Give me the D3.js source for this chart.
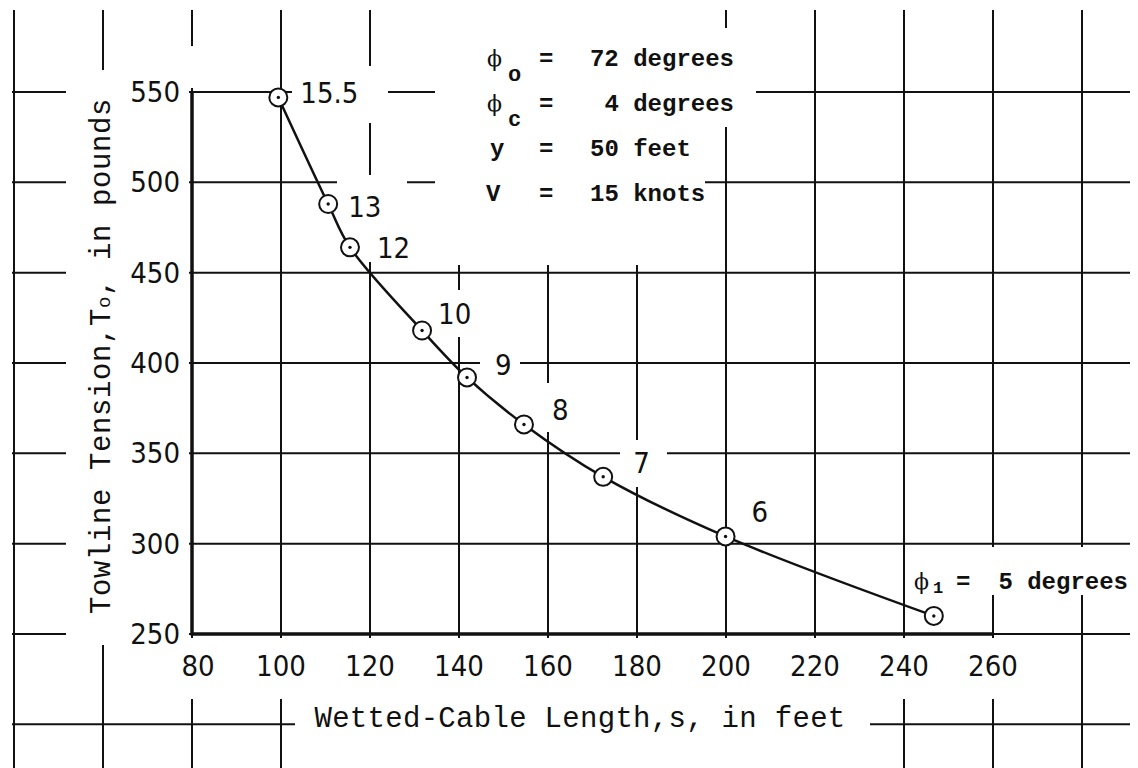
<!DOCTYPE html>
<html><head><meta charset="utf-8">
<script src="https://cdn.jsdelivr.net/npm/d3@7"></script>
<style>body{margin:0;background:#fff} svg{display:block}</style>
</head><body>
<svg id="c" width="1138" height="768"></svg>
<script>
// ---- data ----
const cableLength    = [99.4, 110.6, 115.5, 131.7, 141.8, 154.6, 172.4, 199.9, 246.7];
const towlineTension = [547, 488, 464, 418, 392, 366, 337, 304, 260];
const phiLabels      = ["15.5", "13", "12", "10", "9", "8", "7", "6"];
const xTicks = [80, 100, 120, 140, 160, 180, 200, 220, 240, 260];
const yTicks = [250, 300, 350, 400, 450, 500, 550];
const xGrid  = [40, 60, 80, 100, 120, 140, 160, 180, 200, 220, 240, 260, 280];
const yGrid  = [200, 250, 300, 350, 400, 450, 500, 550];
const legendSymbols = ["\u03D5", "\u03D5", "y", "V"];
const legendSubs    = ["o", "c", "", ""];
const legendValues  = ["72 degrees", "4 degrees", "50 feet", "15 knots"];
const xTitle = "Wetted-Cable Length,s, in feet";
const yTitleA = "Towline Tension,T", yTitleSub = "o", yTitleB = ", in pounds";
const lastLabel = {sym: "\u03D5", sub: "1", rest: "5 degrees"};

// ---- layout ----
const svg = d3.select("#c");
const x = d3.scaleLinear().domain([80, 280]).range([192, 1082]);
const y = d3.scaleLinear().domain([250, 550]).range([634, 92]);
const ink = "#111";
const gridL = 12, gridR = 1130, gridT = 10, gridB = 768;

const g = svg.append("g");
// grid
g.selectAll("line.v").data(xGrid).join("line")
  .attr("x1", d => x(d)).attr("x2", d => x(d))
  .attr("y1", gridT).attr("y2", gridB)
  .attr("stroke", ink).attr("stroke-width", 2);
g.selectAll("line.h").data(yGrid).join("line")
  .attr("y1", d => y(d)).attr("y2", d => y(d))
  .attr("x1", gridL).attr("x2", gridR)
  .attr("stroke", ink).attr("stroke-width", 2);

// gaps in the grid where the lettering sits
const gaps = [
  [66, 70, 123, 575],   // y title + y ticks
  [180, 638, 820, 61],  // x tick labels
  [295, 638, 575, 130], // x title
  [187, 46, 10, 42],    // top of y axis
  [435, 8, 270, 257],   // legend block
  [705, 28, 51, 99],
  [292, 66, 96, 57],    // 15.5
  [337, 175, 70, 87],   // 13, 12
  [432, 290, 46, 47],   // 10
  [480, 345, 40, 35],   // 9
  [540, 383, 35, 49],   // 8
  [620, 440, 47, 47],   // 7
  [908, 547, 222, 48]   // phi1 label
];
g.selectAll("rect.gap").data(gaps).join("rect")
  .attr("x", d => d[0]).attr("y", d => d[1]).attr("width", d => d[2]).attr("height", d => d[3])
  .attr("fill", "#fff");

// heavy axes
g.append("line").attr("x1", x(80)).attr("x2", x(80)).attr("y1", y(550)).attr("y2", y(250) + 1.5)
  .attr("stroke", ink).attr("stroke-width", 3.5);
g.append("line").attr("x1", x(80)).attr("x2", x(260)).attr("y1", y(250)).attr("y2", y(250))
  .attr("stroke", ink).attr("stroke-width", 3.5);

// tick labels
const tickFont = "'DejaVu Sans Condensed', 'DejaVu Sans', sans-serif";
g.selectAll("text.yt").data(yTicks).join("text")
  .attr("x", 180).attr("y", d => y(d) + 10)
  .attr("text-anchor", "end").attr("font-family", tickFont).attr("font-stretch", "condensed")
  .attr("font-size", 29).attr("fill", ink).text(d => d);
g.selectAll("text.xt").data(xTicks).join("text")
  .attr("x", d => x(d) + (d === 80 ? 6 : 0)).attr("y", 676)
  .attr("text-anchor", "middle").attr("font-family", tickFont).attr("font-stretch", "condensed")
  .attr("font-size", 29).attr("fill", ink).text(d => d);

// axis titles
const twFont = "'Liberation Mono', 'DejaVu Sans Mono', monospace";
g.append("text").attr("x", 580).attr("y", 727).attr("text-anchor", "middle")
  .attr("font-family", twFont).attr("font-size", 29).attr("letter-spacing", 0.3)
  .attr("fill", ink).text(xTitle);
const yt = g.append("text").attr("transform", "translate(110,356) rotate(-90)")
  .attr("text-anchor", "middle").attr("font-family", twFont).attr("font-size", 29)
  .attr("letter-spacing", 0.6).attr("fill", ink);
yt.append("tspan").text(yTitleA);
yt.append("tspan").attr("font-size", 19).text(yTitleSub);
yt.append("tspan").text(yTitleB);

// curve
const pts = cableLength.map((s, i) => [x(s), y(towlineTension[i])]);
g.append("path").attr("d", d3.line().curve(d3.curveCatmullRom.alpha(0.5))(pts))
  .attr("fill", "none").attr("stroke", ink).attr("stroke-width", 2.5);
g.selectAll("circle.p").data(pts).join("circle")
  .attr("cx", d => d[0]).attr("cy", d => d[1]).attr("r", 9)
  .attr("fill", "#fff").attr("stroke", ink).attr("stroke-width", 2);
g.selectAll("circle.d").data(pts).join("circle")
  .attr("cx", d => d[0]).attr("cy", d => d[1]).attr("r", 1.7).attr("fill", ink);

// phi labels beside points
const labelOffsets = [[22, -5], [20, 2], [27, 0], [16, -17], [28, -13], [28, -15], [30, -14], [26, -25]];
g.selectAll("text.pl").data(phiLabels).join("text")
  .attr("x", (d, i) => pts[i][0] + labelOffsets[i][0])
  .attr("y", (d, i) => pts[i][1] + labelOffsets[i][1] + 10.5)
  .attr("font-family", tickFont).attr("font-stretch", "condensed")
  .attr("font-size", 29).attr("fill", ink).text(d => d);

// legend block
const legFont = "'Liberation Mono', 'DejaVu Sans Mono', monospace";
const symFont = "'DejaVu Serif', serif";
const rowY = [58, 103, 148, 193];
const symX = [487, 487, 490, 486];
legendSymbols.forEach((s, i) => {
  const base = rowY[i] + 8;
  const isPhi = s === "\u03D5";
  g.append("text").attr("x", symX[i]).attr("y", base).attr("font-family", isPhi ? symFont : legFont)
    .attr("font-weight", isPhi ? "normal" : "bold").attr("font-size", isPhi ? 22 : 24)
    .attr("fill", ink).text(s);
  if (legendSubs[i]) g.append("text").attr("x", 508).attr("y", base + 15).attr("font-family", legFont)
    .attr("font-weight", "bold").attr("font-size", 22).attr("fill", ink).text(legendSubs[i]);
  g.append("text").attr("x", 539).attr("y", base).attr("font-family", legFont)
    .attr("font-weight", "bold").attr("font-size", 24).attr("fill", ink).text("=");
  const isDeg = legendValues[i].includes("degrees");
  g.append("text").attr("x", isDeg ? 734 : 590).attr("y", base)
    .attr("text-anchor", isDeg ? "end" : "start").attr("font-family", legFont)
    .attr("font-weight", "bold").attr("font-size", 24).attr("fill", ink).text(legendValues[i]);
});

// last point label
const lp = pts[pts.length - 1];
const lb = lp[1] - 35 + 8;
g.append("text").attr("x", 914).attr("y", lb).attr("font-family", symFont)
  .attr("font-size", 22).attr("fill", ink).text(lastLabel.sym);
g.append("text").attr("x", 933).attr("y", lb + 4).attr("font-family", legFont)
  .attr("font-weight", "bold").attr("font-size", 17).attr("fill", ink).text(lastLabel.sub);
g.append("text").attr("x", 956).attr("y", lb).attr("font-family", legFont)
  .attr("font-weight", "bold").attr("font-size", 24).attr("fill", ink).text("=");
g.append("text").attr("x", 1128).attr("y", lb).attr("text-anchor", "end").attr("font-family", legFont)
  .attr("font-weight", "bold").attr("font-size", 24).attr("fill", ink).text(lastLabel.rest);
</script>
</body></html>
